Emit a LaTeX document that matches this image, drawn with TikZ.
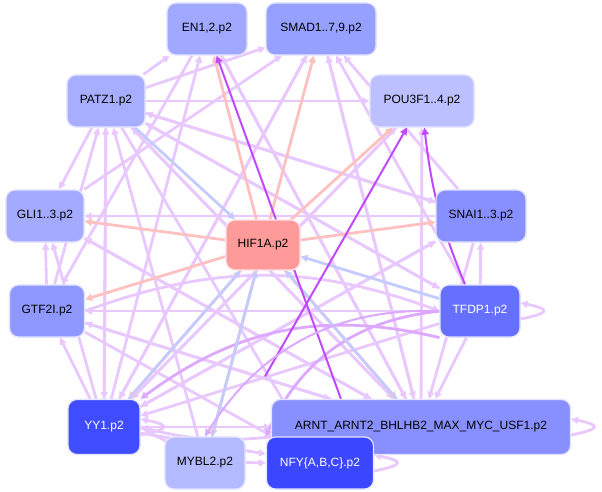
\documentclass[tikz,border=0pt]{standalone}
\usepackage{fontspec}
\setmainfont{Liberation Sans}
\usetikzlibrary{arrows.meta}
\definecolor{lp}{HTML}{E8C8FF}
\definecolor{pk}{HTML}{FFC0C0}
\definecolor{lb}{HTML}{C4CCFF}
\definecolor{sp}{HTML}{C048FF}
\definecolor{mp}{HTML}{DDA8FF}
\begin{document}
\begin{tikzpicture}[x=1pt,y=-1pt,
  n/.style={draw=blue!10,line width=1.2pt,rounded corners=9pt,minimum height=52pt,font=\fontsize{12}{14}\selectfont,inner sep=2pt},
  e/.style={-{Triangle[length=7pt,width=7pt]},line width=2.8pt,color=lp},
  ep/.style={e,color=pk},
  eb/.style={e,color=lb},
  es/.style={e,color=sp,line width=2pt},
  em/.style={e,color=mp}]
\useasboundingbox (0,0) rectangle (602,492);
\node[n,minimum width=80pt] (en) at (207,29) {EN1,2.p2};
\node[n,minimum width=110pt] (smad) at (321,29) {SMAD1..7,9.p2};
\node[n,minimum width=78pt] (patz) at (106,101) {PATZ1.p2};
\node[n,minimum width=104pt] (pou) at (422,101) {POU3F1..4.p2};
\node[n,minimum width=78pt] (gli) at (45,216) {GLI1..3.p2};
\node[n,minimum width=90pt] (snai) at (481,216) {SNAI1..3.p2};
\node[n,minimum width=74pt,minimum height=50pt] (hif) at (263,245) {HIF1A.p2};
\node[n,minimum width=75pt] (gtf) at (47,311) {GTF2I.p2};
\node[n,minimum width=80pt] (tfdp) at (480,311) {TFDP1.p2};
\node[n,minimum width=72pt,minimum height=55pt] (yy) at (104,427) {YY1.p2};
\node[n,minimum width=299pt,minimum height=55pt] (arnt) at (421,427) {ARNT\_ARNT2\_BHLHB2\_MAX\_MYC\_USF1.p2};
\node[n,minimum width=80pt] (mybl) at (205,463) {MYBL2.p2};
\node[n,minimum width=107pt] (nfy) at (320,463) {NFY\{A,B,C\}.p2};
% light purple edges
\foreach \a/\b in {patz/en,patz/smad,patz/pou,patz/gli,patz/snai,patz/tfdp,patz/arnt,patz/yy,patz/nfy,
  yy/en,yy/smad,yy/patz,yy/gli,yy/gtf,yy/pou,yy/snai,yy/arnt,yy/nfy,
  arnt/smad,arnt/patz,arnt/gli,arnt/gtf,arnt/pou,arnt/en,
  tfdp/smad,tfdp/patz,tfdp/gtf,tfdp/yy,tfdp/arnt,tfdp/snai,
  snai/gli,snai/smad,snai/patz,snai/arnt,snai/yy,
  gli/smad,gli/arnt,gtf/gli,gtf/arnt,gtf/nfy,gtf/patz,
  smad/arnt,en/arnt,en/gtf,nfy/arnt,pou/yy,smad/yy,mybl/patz}
  \draw[e] (\a) -- (\b);
\draw[e] (yy.east) to[bend right=15] (nfy.west);
\draw[e] (arnt.west) ++(0,10) to[bend left=10] (yy.east);
\draw[e] (gtf.east) to[bend left=20] (tfdp.west);
\draw[em] (tfdp.south west) to[bend right=25] (yy.north east);
\draw[em] (tfdp) to[bend right=30] (nfy.north west);
% loops
\draw[e] ([yshift=-8]arnt.east) .. controls +(30,-6) and +(30,6) .. ([yshift=8]arnt.east);
\draw[e] ([yshift=-8]nfy.east) .. controls +(30,-6) and +(30,6) .. ([yshift=8]nfy.east);
\draw[e] ([yshift=-8]yy.east) .. controls +(30,-6) and +(30,6) .. ([yshift=8]yy.east);
\draw[e] ([yshift=-8]tfdp.east) .. controls +(30,-6) and +(30,6) .. ([yshift=8]tfdp.east);
% pink edges from HIF1A
\foreach \b in {en,smad,pou,snai,gli,gtf,yy,arnt,mybl} \draw[ep] (hif) -- (\b);
% blue edges to HIF1A
\foreach \a in {patz,yy,mybl,tfdp,arnt} \draw[eb] (\a) -- (hif);
% strong purple
\draw[es] (arnt.north west) ++(70,0) -- (en);
\draw[es] (mybl.north) ++(60,-60) -- (pou);
\draw[es] (tfdp.north) ++(-15,0) to[bend left=8] (pou);
\draw[es,color=mp] (tfdp.west) to[bend right=30] (mybl.north);
% nodes on top
\node[n,minimum width=80pt,fill={rgb,255:red,160;green,168;blue,255}] at (207,29) {EN1,2.p2};
\node[n,minimum width=110pt,fill={rgb,255:red,149;green,160;blue,255}] at (321,29) {SMAD1..7,9.p2};
\node[n,minimum width=78pt,fill={rgb,255:red,168;green,174;blue,255}] at (106,101) {PATZ1.p2};
\node[n,minimum width=104pt,fill={rgb,255:red,188;green,192;blue,255}] at (422,101) {POU3F1..4.p2};
\node[n,minimum width=78pt,fill={rgb,255:red,164;green,170;blue,255}] at (45,216) {GLI1..3.p2};
\node[n,minimum width=90pt,fill={rgb,255:red,136;green,144;blue,255}] at (481,216) {SNAI1..3.p2};
\node[n,minimum width=74pt,minimum height=50pt,draw=red!10,fill={rgb,255:red,255;green,154;blue,154}] at (263,245) {HIF1A.p2};
\node[n,minimum width=75pt,fill={rgb,255:red,143;green,152;blue,255}] at (47,311) {GTF2I.p2};
\node[n,minimum width=80pt,fill={rgb,255:red,102;green,112;blue,255},text=white] at (480,311) {TFDP1.p2};
\node[n,minimum width=72pt,minimum height=55pt,fill={rgb,255:red,63;green,76;blue,255},text=white] at (104,427) {YY1.p2};
\node[n,minimum width=299pt,minimum height=55pt,fill={rgb,255:red,136;green,144;blue,255}] at (421,427) {ARNT\_ARNT2\_BHLHB2\_MAX\_MYC\_USF1.p2};
\node[n,minimum width=80pt,fill={rgb,255:red,180;green,186;blue,255}] at (205,463) {MYBL2.p2};
\node[n,minimum width=107pt,fill={rgb,255:red,58;green,70;blue,255},text=white] at (320,463) {NFY\{A,B,C\}.p2};
\end{tikzpicture}
\end{document}
